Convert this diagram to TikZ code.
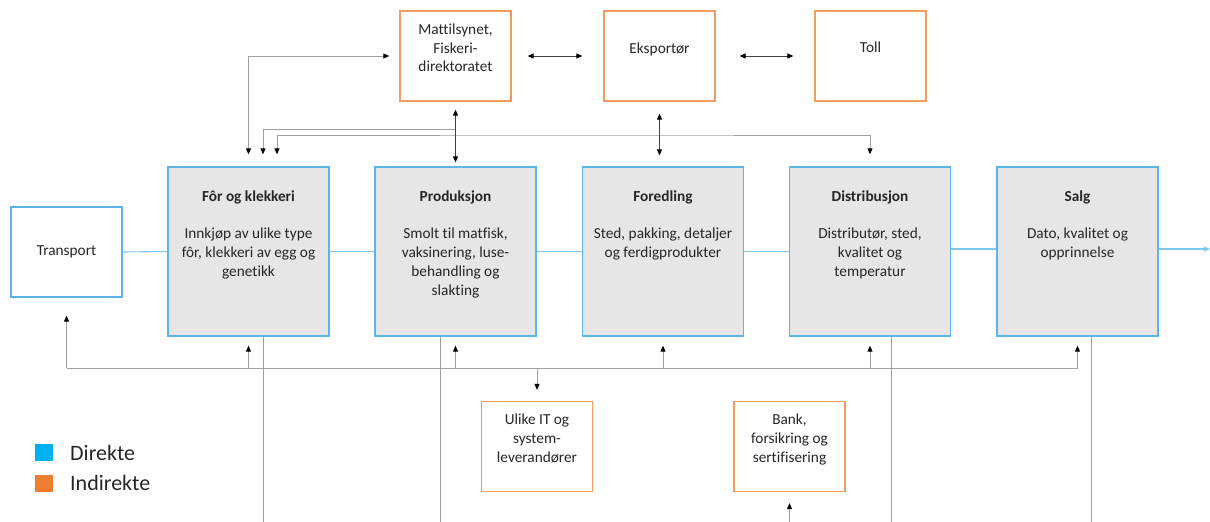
\documentclass[tikz,border=0pt]{standalone}
\usepackage{fontspec}
\setmainfont{Carlito}[Ligatures=NoCommon]
\usetikzlibrary{arrows.meta}

\definecolor{dirblue}{HTML}{5BB5E8}
\definecolor{indorange}{HTML}{F19A61}
\definecolor{legblue}{HTML}{00B0F0}
\definecolor{legorange}{HTML}{ED7D31}
\definecolor{boxfill}{HTML}{E6E6E6}
\definecolor{txt}{HTML}{262626}
\definecolor{wirecol}{HTML}{A0A0A0}
\definecolor{flowcol}{HTML}{7FC8F0}

\tikzset{
  boxtext/.style={font=\fontsize{15.3}{18.8}\selectfont, text=txt, inner sep=0pt, align=center},
  stage/.style={draw=dirblue, fill=boxfill, line width=1.3pt, minimum width=161pt, minimum height=169pt, inner sep=0pt},
  actor/.style={draw=indorange, fill=white, line width=1.3pt, minimum width=111pt, minimum height=90pt, inner sep=0pt},
  carrier/.style={draw=dirblue, fill=white, line width=1.3pt, minimum width=111pt, minimum height=90pt, inner sep=0pt, boxtext},
  stagetitle/.style={boxtext, font=\fontsize{15.3}{18.8}\selectfont\bfseries, anchor=base},
  stagebody/.style={boxtext, anchor=north},
  flow/.style={draw=flowcol, line width=1.1pt},
  wire/.style={draw=wirecol, line width=0.9pt},
  darkwire/.style={draw=black!75, line width=0.9pt},
  legsq/.style={minimum width=18pt, minimum height=17pt, inner sep=0pt},
  legtext/.style={font=\fontsize{22}{26}\selectfont, text=txt, anchor=base west, inner sep=0pt},
}

\begin{document}
\begin{tikzpicture}[x=1pt, y=-1pt,
  >={Triangle[length=6pt, width=5pt, color=black, fill=black]}]
\path[use as bounding box] (0,0) rectangle (1210,522);

% reference rails
\coordinate (hA) at (0,129);
\coordinate (hB) at (600,135);
\coordinate (bus) at (0,368);
\coordinate (floor) at (0,522);
\coordinate (out) at (1210,249);

% value chain stages
\node[carrier] (tr) at (66.5,252) {Transport};
\node[stage] (fk) at (248.5,251.5) {};
\node[stage] (pr) at (455.5,251.5) {};
\node[stage] (fo) at (663,251.5) {};
\node[stage] (di) at (870,251.5) {};
\node[stage] (sa) at (1077.5,251.5) {};

\node[stagetitle] (fkT) at (248.5,201) {Fôr og klekkeri};
\node[stagetitle] (prT) at (455.5,201) {Produksjon};
\node[stagetitle] (foT) at (663,201) {Foredling};
\node[stagetitle] (diT) at (870,201) {Distribusjon};
\node[stagetitle] (saT) at (1077.5,201) {Salg};

\node[stagebody] (fkB) at (248.5,228) {Innkjøp av ulike type\\fôr, klekkeri av egg og\\genetikk};
\node[stagebody] (prB) at (455.5,228) {Smolt til matfisk,\\vaksinering, luse-\\behandling og\\slakting};
\node[stagebody] (foB) at (663,228) {Sted, pakking, detaljer\\og ferdigprodukter};
\node[stagebody] (diB) at (870,228) {Distributør, sted,\\kvalitet og\\temperatur};
\node[stagebody] (saB) at (1077.5,228) {Dato, kvalitet og\\opprinnelse};

% indirect actors
\node[actor] (mt) at (455.5,56) {};
\node[actor] (ek) at (659.5,56) {};
\node[actor] (tl) at (870.5,56) {};
\node[actor] (it) at (537,446.5) {};
\node[actor] (bk) at (789.5,446.5) {};

\node[stagebody] (mtT) at (455.5,23.5) {Mattilsynet,\\Fiskeri-\\direktoratet};
\node[boxtext, anchor=base] (ekT) at (659.5,53) {Eksportør};
\node[boxtext, anchor=base] (tlT) at (870.5,52) {Toll};
\node[stagebody] (itT) at (537,414) {Ulike IT og\\system-\\leverandører};
\node[stagebody] (bkT) at (789.5,414) {Bank,\\forsikring og\\sertifisering};

% direct flow
\draw[flow] (tr.east) -- (fk.west);
\draw[flow] (fk) -- (pr);
\draw[flow] (pr) -- (fo);
\draw[flow] (fo) -- (di);
\draw[flow] ([yshift=2.5pt]di.east) -- ([yshift=2.5pt]sa.west);
\draw[flow, -{Triangle[length=6pt, width=5pt]}] ([yshift=2.5pt]sa.east) -- (out);

% links to authorities and exporter
\draw[wire, <->, shorten <=12pt, shorten >=10pt] (fk.north) |- (mt.west);
\draw[wire, ->, shorten >=12pt] (mt.south |- hA) -| ([xshift=14.5pt]fk.north);
\draw[wire, <->, shorten <=12pt, shorten >=12pt] ([xshift=28.5pt]fk.north) |- (hB) -| (di.north);
\draw[darkwire, <->, shorten <=8pt, shorten >=4pt] (mt.south) -- (pr.north);
\draw[darkwire, <->, shorten <=12pt, shorten >=11pt] (ek.south) -- (ek.south |- fo.north);
\draw[darkwire, <->, shorten <=16pt, shorten >=21pt] (mt.east) -- (ek.west);
\draw[darkwire, <->, shorten <=24pt, shorten >=21pt] (ek.east) -- (tl.west);

% service bus below the chain
\draw[wire] (tr.south |- bus) -- (sa.south |- bus);
\draw[wire, ->, shorten >=18pt] (tr.south |- bus) -- (tr.south);
\foreach \s in {fk,pr,fo,di,sa}
  \draw[wire, ->, shorten >=9pt] (\s.south |- bus) -- (\s.south);
\draw[wire, ->, shorten >=11pt] (it.north |- bus) -- (it.north);
\draw[wire, ->, shorten >=11pt] (bk.south |- floor) -- (bk.south);

% drop lines to the lower edge
\draw[wire] ([xshift=14.5pt]fk.south) -- ([xshift=14.5pt]fk.south |- floor);
\draw[wire] ([xshift=-15.5pt]pr.south) -- ([xshift=-15.5pt]pr.south |- floor);
\draw[wire] ([xshift=21pt]di.south) -- ([xshift=21pt]di.south |- floor);
\draw[wire] ([xshift=13.5pt]sa.south) -- ([xshift=13.5pt]sa.south |- floor);

% legend
\node[legsq, fill=legblue] (lgD) at (44,452.5) {};
\node[legsq, fill=legorange] (lgI) at (44,483.5) {};
\node[legtext] (lgDt) at (70,460) {Direkte};
\node[legtext] (lgIt) at (70,490) {Indirekte};
\end{tikzpicture}
\end{document}
